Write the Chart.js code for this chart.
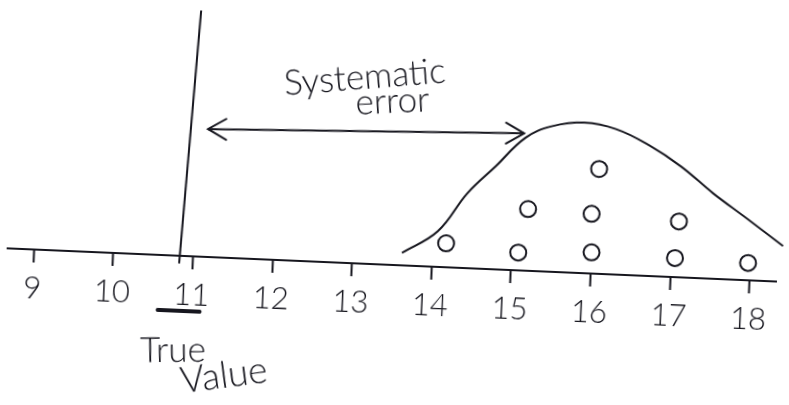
<!DOCTYPE html>
<html>
<head>
<meta charset="utf-8">
<script src="https://cdn.jsdelivr.net/npm/chart.js@4.4.0/dist/chart.umd.min.js"></script>
<style>
  html, body { margin: 0; padding: 0; background: #fff; overflow: hidden; }
  /* the hand drawn axis runs slightly downhill, so tilt the whole sheet */
  #sketch { display: block; transform: rotate(2.47deg); transform-origin: 50% 50%; }
</style>
</head>
<body>
<canvas id="sketch" width="789" height="405"></canvas>
<script>
var INK = '#16161e';
var FONT = "Lato, 'Open Sans', sans-serif";

var tickValues = [9, 10, 11, 12, 13, 14, 15, 16, 17, 18];

// repeated measurements (the little circles)
var measureX = [14.17, 15.08, 15.18, 16.0, 15.98, 16.05, 17.05, 17.08, 17.97];
var measureY = [0.94, 0.70, 2.42, 0.83, 2.34, 4.11, 0.75, 2.19, 0.68];

// bell curve drawn over the measurements
var curveX = [13.62, 14.06, 14.41, 14.75, 15.11, 15.43, 15.84, 16.24, 16.66, 17.08, 17.49, 17.93, 18.40];
var curveY = [0.49, 1.40, 2.94, 4.04, 5.21, 5.70, 5.90, 5.70, 5.13, 4.34, 3.36, 2.42, 1.40];

// true value marker and the systematic error arrow
var trueLineX = [10.83, 10.97];
var trueLineY = [-0.3, 9.65];
var arrowX = [11.12, 15.09];
var arrowY = [5.01, 5.38];

function pairs(xs, ys) {
  return xs.map(function (x, i) { return { x: x, y: ys[i] }; });
}

function arrowHead(c, tx, ty, fx, fy) {
  var ang = Math.atan2(ty - fy, tx - fx);
  var len = 21, spread = 0.52;
  c.beginPath();
  c.moveTo(tx - len * Math.cos(ang - spread), ty - len * Math.sin(ang - spread));
  c.lineTo(tx, ty);
  c.lineTo(tx - len * Math.cos(ang + spread), ty - len * Math.sin(ang + spread));
  c.stroke();
}

function note(c, text, x, y, deg, size) {
  c.save();
  c.translate(x, y);
  c.rotate(deg * Math.PI / 180);
  c.font = '300 ' + size + 'px ' + FONT;
  c.fillStyle = INK;
  c.textAlign = 'center';
  c.textBaseline = 'middle';
  c.fillText(text, 0, 0);
  c.restore();
}

var sketchNotes = {
  id: 'sketchNotes',
  afterDatasetsDraw: function (chart) {
    var c = chart.ctx;
    var xs = chart.scales.x, ys = chart.scales.y;
    var bottom = chart.chartArea.bottom;
    var arrow = chart.getDatasetMeta(3).data;
    c.save();
    c.strokeStyle = INK;
    c.lineWidth = 2;
    c.lineCap = 'round';
    arrowHead(c, arrow[0].x, arrow[0].y, arrow[1].x, arrow[1].y);
    arrowHead(c, arrow[1].x, arrow[1].y, arrow[0].x, arrow[0].y);

    var u = xs.getPixelForValue(11);
    c.lineWidth = 4;
    c.beginPath();
    c.moveTo(u - 33, bottom + 55);
    c.lineTo(u + 9, bottom + 55);
    c.stroke();
    c.restore();

    note(c, 'Systematic', xs.getPixelForValue(13.06), ys.getPixelForValue(7.3), -7, 35);
    note(c, 'error', xs.getPixelForValue(13.42), ys.getPixelForValue(6.4), -5, 35);
    note(c, 'True', u - 16, bottom + 95, -3, 35);
    note(c, 'Value', u + 36, bottom + 118, -10, 37);
  }
};

new Chart(document.getElementById('sketch').getContext('2d'), {
  type: 'scatter',
  data: {
    datasets: [{
      label: 'Measurements',
      data: pairs(measureX, measureY),
      showLine: false,
      pointStyle: 'circle',
      pointRadius: 8,
      borderWidth: 2,
      borderColor: INK,
      backgroundColor: '#ffffff'
    }, {
      label: 'Distribution',
      data: pairs(curveX, curveY),
      showLine: true,
      tension: 0.4,
      pointRadius: 0,
      borderWidth: 2,
      borderColor: INK,
      fill: false
    }, {
      label: 'True value',
      data: pairs(trueLineX, trueLineY),
      showLine: true,
      pointRadius: 0,
      borderWidth: 2,
      borderColor: INK
    }, {
      label: 'Systematic error',
      data: pairs(arrowX, arrowY),
      showLine: true,
      pointRadius: 0,
      borderWidth: 2,
      borderColor: INK
    }]
  },
  options: {
    responsive: false,
    animation: false,
    clip: false,
    layout: { padding: 0 },
    plugins: {
      legend: { display: false },
      tooltip: { enabled: false }
    },
    scales: {
      x: {
        type: 'linear',
        min: 8.67,
        max: 18.33,
        afterBuildTicks: function (axis) {
          axis.ticks = tickValues.map(function (v) { return { value: v }; });
        },
        afterFit: function (axis) { axis.height = 140; },
        border: { display: true, color: INK, width: 2 },
        grid: {
          drawOnChartArea: false,
          drawTicks: true,
          tickLength: 13,
          tickColor: INK,
          tickWidth: 2
        },
        ticks: {
          autoSkip: false,
          maxRotation: 0,
          padding: 7,
          color: INK,
          font: { family: FONT, size: 31, weight: '300' },
          callback: function (v) { return String(v); }
        }
      },
      y: {
        display: false,
        min: 0,
        max: 10
      }
    }
  },
  plugins: [sketchNotes]
});
</script>
</body>
</html>
